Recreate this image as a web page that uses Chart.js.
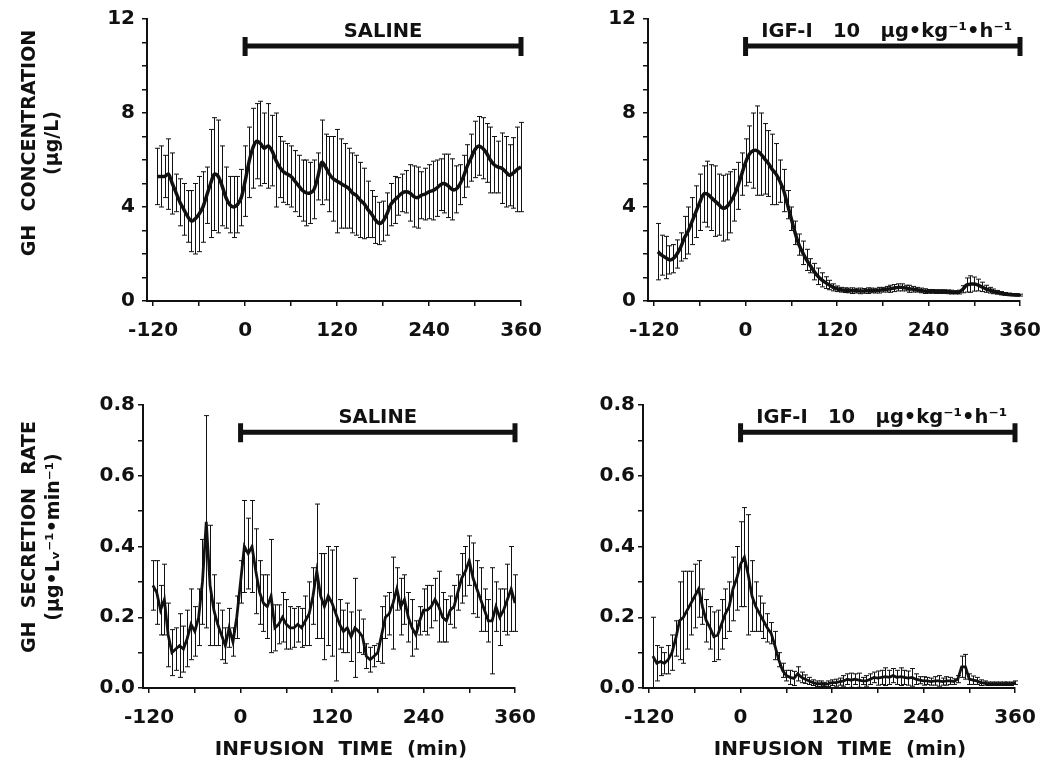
<!DOCTYPE html>
<html>
<head>
<meta charset="utf-8">
<script src="https://cdn.jsdelivr.net/npm/chart.js@4.4.1/dist/chart.umd.min.js"></script>
<style>
  html, body { margin: 0; padding: 0; background: #fff; }
  #wrap { position: relative; width: 1042px; height: 767px; overflow: hidden; background: #fff; }
  #wrap canvas { position: absolute; left: 0; top: 0; }
</style>
</head>
<body>
<div id="wrap">
  <canvas id="concSaline" width="1100" height="767"></canvas>
  <canvas id="concIgf" width="1100" height="767"></canvas>
  <canvas id="rateSaline" width="1100" height="767"></canvas>
  <canvas id="rateIgf" width="1100" height="767"></canvas>
</div>
<script>
// sampling times (min), one sample every 5 min
const sampleTimes = [
  -115, -110, -105, -100, -95, -90, -85, -80, -75, -70, -65, -60,
  -55, -50, -45, -40, -35, -30, -25, -20, -15, -10, -5, 0,
  5, 10, 15, 20, 25, 30, 35, 40, 45, 50, 55, 60,
  65, 70, 75, 80, 85, 90, 95, 100, 105, 110, 115, 120,
  125, 130, 135, 140, 145, 150, 155, 160, 165, 170, 175, 180,
  185, 190, 195, 200, 205, 210, 215, 220, 225, 230, 235, 240,
  245, 250, 255, 260, 265, 270, 275, 280, 285, 290, 295, 300,
  305, 310, 315, 320, 325, 330, 335, 340, 345, 350, 355, 360
];

// axis ticks
const xTicks = [-120, -60, 0, 60, 120, 180, 240, 300, 360];
const xLabels = [-120, 0, 120, 240, 360];
const concTicks = [0, 1, 2, 3, 4, 5, 6, 7, 8, 9, 10, 11, 12];
const concLabels = [0, 4, 8, 12];
const rateTicks = [0, 0.1, 0.2, 0.3, 0.4, 0.5, 0.6, 0.7, 0.8];
const rateLabels = [0, 0.2, 0.4, 0.6, 0.8];
const infusion = [0, 360];

// GH concentration (ug/L), saline
const salineConc = [
  5.3, 5.3, 5.3, 5.4, 5.0, 4.6, 4.2, 3.9, 3.6, 3.4, 3.5, 3.7,
  4.0, 4.5, 5.0, 5.4, 5.3, 4.9, 4.4, 4.1, 4.0, 4.1, 4.4, 5.1,
  5.9, 6.5, 6.8, 6.7, 6.5, 6.6, 6.4, 6.0, 5.7, 5.5, 5.4, 5.3,
  5.1, 4.9, 4.7, 4.6, 4.6, 4.75, 5.3, 5.9, 5.7, 5.4, 5.2, 5.1,
  5.0, 4.9, 4.8, 4.6, 4.5, 4.3, 4.15, 3.9, 3.7, 3.45, 3.3, 3.4,
  3.7, 4.1, 4.3, 4.45, 4.6, 4.65, 4.6, 4.45, 4.4, 4.5, 4.55, 4.65,
  4.7, 4.8, 4.95, 5.0, 4.9, 4.75, 4.75, 4.95, 5.3, 5.75, 6.1, 6.45,
  6.6, 6.5, 6.3, 6.0, 5.8, 5.7, 5.65, 5.5, 5.35, 5.45, 5.6, 5.7
];
const salineConcSem = [
  1.2, 1.3, 0.9, 1.5, 1.3, 0.8, 1.0, 1.1, 1.1, 1.3, 1.5, 1.6,
  1.5, 1.2, 2.3, 2.4, 2.4, 1.7, 1.3, 1.2, 1.3, 1.2, 1.2, 1.5,
  1.5, 1.7, 1.6, 1.8, 1.5, 1.8, 1.5, 2.0, 1.3, 1.3, 1.3, 1.3,
  1.3, 1.3, 1.3, 1.4, 1.3, 1.25, 1.0, 1.8, 1.4, 1.6, 1.8, 2.2,
  1.9, 1.8, 1.7, 1.7, 1.7, 1.6, 1.5, 1.2, 1.0, 1.0, 0.9, 0.85,
  0.9, 0.9, 1.0, 0.8, 0.8, 0.9, 1.2, 1.3, 1.3, 1.0, 1.1, 1.15,
  1.25, 1.2, 1.1, 1.25, 1.35, 1.3, 1.0, 0.85, 0.9, 0.9, 1.0, 1.2,
  1.25, 1.3, 1.25, 1.4, 1.2, 1.1, 1.5, 1.5, 1.3, 1.5, 1.8, 1.9
];

// GH concentration (ug/L), IGF-I infusion
const igfConc = [
  2.1, 1.95, 1.85, 1.75, 1.8, 2.0, 2.3, 2.7, 3.0, 3.4, 3.8, 4.2,
  4.55, 4.55, 4.4, 4.25, 4.1, 3.95, 4.0, 4.2, 4.5, 4.9, 5.4, 5.9,
  6.25, 6.4, 6.4, 6.25, 6.05, 5.85, 5.6, 5.4, 5.1, 4.7, 4.1, 3.5,
  2.9, 2.4, 2.05, 1.75, 1.5, 1.25, 1.05, 0.9, 0.78, 0.68, 0.58, 0.52,
  0.48, 0.46, 0.45, 0.44, 0.44, 0.43, 0.43, 0.44, 0.45, 0.44, 0.46, 0.48,
  0.5, 0.52, 0.55, 0.58, 0.58, 0.55, 0.52, 0.5, 0.48, 0.45, 0.42, 0.41,
  0.41, 0.4, 0.4, 0.4, 0.39, 0.38, 0.37, 0.38, 0.5, 0.68, 0.72, 0.72,
  0.68, 0.6, 0.52, 0.46, 0.41, 0.37, 0.33, 0.3, 0.28, 0.27, 0.26, 0.25
];
const igfConcSem = [
  1.2, 0.85, 0.9, 0.6, 0.6, 0.6, 0.6, 0.9, 1.0, 1.0, 1.1, 1.2,
  1.2, 1.4, 1.4, 1.5, 1.3, 1.4, 1.4, 1.3, 1.1, 1.0, 0.9, 1.0,
  1.2, 1.6, 1.9, 1.75, 1.5, 1.4, 1.5, 1.3, 0.9, 0.9, 0.6, 0.5,
  0.5, 0.45, 0.5, 0.45, 0.3, 0.35, 0.35, 0.3, 0.25, 0.2, 0.15, 0.12,
  0.1, 0.1, 0.1, 0.12, 0.1, 0.12, 0.1, 0.12, 0.1, 0.1, 0.12, 0.1,
  0.12, 0.15, 0.15, 0.15, 0.15, 0.12, 0.15, 0.12, 0.1, 0.1, 0.1, 0.08,
  0.08, 0.08, 0.08, 0.08, 0.08, 0.08, 0.07, 0.08, 0.15, 0.3, 0.35, 0.3,
  0.25, 0.2, 0.15, 0.12, 0.1, 0.08, 0.07, 0.06, 0.05, 0.05, 0.05, 0.04
];

// GH secretion rate (ug/Lv/min), saline
const salineRate = [
  0.29, 0.27, 0.22, 0.25, 0.15, 0.1, 0.11, 0.12, 0.11, 0.14, 0.18, 0.16,
  0.2, 0.3, 0.47, 0.29, 0.22, 0.18, 0.15, 0.12, 0.17, 0.13, 0.2, 0.3,
  0.4, 0.38, 0.4, 0.33, 0.27, 0.24, 0.23, 0.26, 0.17, 0.18, 0.2, 0.18,
  0.17, 0.17, 0.18, 0.17, 0.19, 0.21, 0.26, 0.33, 0.26, 0.23, 0.26, 0.24,
  0.21, 0.18, 0.16, 0.17, 0.145, 0.17, 0.16, 0.145, 0.09, 0.08, 0.09, 0.1,
  0.15, 0.2, 0.21, 0.24, 0.28, 0.23, 0.25, 0.2, 0.17, 0.15, 0.19, 0.22,
  0.22, 0.23, 0.25, 0.23, 0.2, 0.19, 0.22, 0.23, 0.27, 0.31, 0.33, 0.36,
  0.31, 0.28, 0.25, 0.22, 0.19, 0.19, 0.23, 0.2, 0.22, 0.25, 0.28, 0.24
];
const salineRateSem = [
  0.07, 0.09, 0.07, 0.1, 0.09, 0.065, 0.06, 0.09, 0.065, 0.08, 0.1, 0.07,
  0.08, 0.12, 0.3, 0.17, 0.1, 0.06, 0.07, 0.05, 0.055, 0.04, 0.06, 0.06,
  0.13, 0.1, 0.13, 0.12, 0.09, 0.08, 0.09, 0.16, 0.065, 0.055, 0.07, 0.07,
  0.06, 0.055, 0.05, 0.055, 0.07, 0.09, 0.08, 0.19, 0.12, 0.15, 0.14, 0.15,
  0.19, 0.07, 0.06, 0.07, 0.07, 0.14, 0.06, 0.05, 0.035, 0.035, 0.03, 0.025,
  0.08, 0.06, 0.06, 0.13, 0.06, 0.08, 0.07, 0.07, 0.08, 0.04, 0.04, 0.06,
  0.07, 0.06, 0.06, 0.1, 0.07, 0.06, 0.04, 0.06, 0.05, 0.07, 0.07, 0.07,
  0.1, 0.08, 0.09, 0.06, 0.06, 0.15, 0.07, 0.08, 0.06, 0.1, 0.12, 0.08
];

// GH secretion rate (ug/Lv/min), IGF-I infusion
const igfRate = [
  0.09, 0.07, 0.075, 0.07, 0.08, 0.1, 0.14, 0.19, 0.2, 0.22, 0.24, 0.26,
  0.28, 0.23, 0.19, 0.17, 0.145, 0.15, 0.18, 0.21, 0.23, 0.28, 0.31, 0.35,
  0.37, 0.32, 0.26, 0.23, 0.21, 0.19, 0.17, 0.155, 0.12, 0.08, 0.05, 0.035,
  0.03, 0.027, 0.04, 0.03, 0.025, 0.02, 0.015, 0.012, 0.012, 0.01, 0.012, 0.015,
  0.015, 0.018, 0.02, 0.025, 0.022, 0.025, 0.022, 0.02, 0.02, 0.025, 0.03, 0.028,
  0.03, 0.032, 0.03, 0.035, 0.03, 0.032, 0.03, 0.028, 0.03, 0.025, 0.022, 0.02,
  0.02, 0.018, 0.02, 0.02, 0.018, 0.02, 0.02, 0.018, 0.025, 0.06, 0.06, 0.025,
  0.022, 0.02, 0.015, 0.014, 0.012, 0.012, 0.012, 0.012, 0.012, 0.012, 0.012, 0.015
];
const igfRateSem = [
  0.11, 0.05, 0.04, 0.03, 0.04, 0.05, 0.05, 0.11, 0.13, 0.11, 0.09, 0.09,
  0.08, 0.05, 0.06, 0.06, 0.07, 0.07, 0.07, 0.07, 0.07, 0.09, 0.09, 0.12,
  0.14, 0.17, 0.1, 0.07, 0.05, 0.05, 0.04, 0.03, 0.04, 0.02, 0.02, 0.015,
  0.02, 0.02, 0.02, 0.015, 0.012, 0.01, 0.008, 0.008, 0.008, 0.006, 0.008, 0.008,
  0.01, 0.01, 0.015, 0.015, 0.02, 0.015, 0.02, 0.01, 0.015, 0.015, 0.015, 0.02,
  0.02, 0.025, 0.02, 0.02, 0.02, 0.025, 0.02, 0.02, 0.025, 0.015, 0.01, 0.012,
  0.01, 0.01, 0.012, 0.015, 0.01, 0.012, 0.01, 0.008, 0.01, 0.03, 0.035, 0.015,
  0.012, 0.01, 0.008, 0.006, 0.005, 0.005, 0.005, 0.005, 0.005, 0.005, 0.005, 0.005
];

const INK = '#111';
const FONT = "'DejaVu Sans', 'Liberation Sans', sans-serif";
const CANVAS_W = 1100;
const CANVAS_H = 767;

Chart.defaults.font.family = FONT;
Chart.defaults.font.weight = 'bold';
Chart.defaults.color = INK;

// vertical mean +/- SEM bars with small caps at both ends
const errorBarPlugin = {
  id: 'errorBars',
  beforeDatasetsDraw(chart) {
    const { ctx, scales: { x, y } } = chart;
    chart.data.datasets.forEach(ds => {
      if (!ds.errors) return;
      ctx.save();
      ctx.strokeStyle = INK;
      ctx.lineWidth = 1;
      ctx.beginPath();
      ds.data.forEach((pt, i) => {
        const px = Math.round(x.getPixelForValue(pt.x)) + 0.5;
        const top = y.getPixelForValue(pt.y + ds.errors[i]);
        const bot = y.getPixelForValue(Math.max(0, pt.y - ds.errors[i]));
        ctx.moveTo(px, top);
        ctx.lineTo(px, bot);
        ctx.moveTo(px - 2.5, top);
        ctx.lineTo(px + 2.5, top);
        ctx.moveTo(px - 2.5, bot);
        ctx.lineTo(px + 2.5, bot);
      });
      ctx.stroke();
      ctx.restore();
    });
  }
};

// infusion period bar with its label
const infusionBarPlugin = {
  id: 'infusionBar',
  afterDatasetsDraw(chart, args, opts) {
    if (!opts.text) return;
    const { ctx, scales: { x, y } } = chart;
    const x0 = x.getPixelForValue(infusion[0]);
    const x1 = x.getPixelForValue(infusion[1]);
    const yy = y.getPixelForValue(opts.level);
    ctx.save();
    ctx.strokeStyle = INK;
    ctx.lineWidth = 5;
    ctx.beginPath();
    ctx.moveTo(x0, yy);
    ctx.lineTo(x1, yy);
    ctx.moveTo(x0, yy - 9);
    ctx.lineTo(x0, yy + 10);
    ctx.moveTo(x1, yy - 9);
    ctx.lineTo(x1, yy + 10);
    ctx.stroke();
    ctx.fillStyle = INK;
    ctx.font = 'bold 19.5px ' + FONT;
    ctx.textAlign = 'center';
    ctx.textBaseline = 'middle';
    ctx.fillText(opts.text, (x0 + x1) / 2 + opts.shift, yy - 14);
    ctx.restore();
  }
};

// axis captions, placed where the original figure has them
const captionPlugin = {
  id: 'captions',
  afterDraw(chart, args, opts) {
    const { ctx } = chart;
    ctx.save();
    ctx.fillStyle = INK;
    ctx.textAlign = 'center';
    ctx.textBaseline = 'middle';
    if (opts.yLines) {
      ctx.font = 'bold 19px ' + FONT;
      opts.yLines.forEach((line, i) => {
        ctx.save();
        ctx.translate(opts.yAt[0] + i * opts.yGap, opts.yAt[1]);
        ctx.rotate(-Math.PI / 2);
        ctx.fillText(line, 0, 0);
        ctx.restore();
      });
    }
    if (opts.xText) {
      ctx.font = 'bold 20px ' + FONT;
      ctx.fillText(opts.xText, opts.xAt[0], opts.xAt[1]);
    }
    ctx.restore();
  }
};

function makePanel(id, p) {
  const axisLine = { display: true, color: INK, width: 2 };
  const tickMarks = { drawOnChartArea: false, drawTicks: true, tickLength: 5, color: INK, lineWidth: 1.5 };
  return new Chart(document.getElementById(id), {
    type: 'line',
    data: {
      datasets: [{
        data: sampleTimes.map((t, i) => ({ x: t, y: p.mean[i] })),
        errors: p.sem,
        borderColor: INK,
        borderWidth: p.lineWidth,
        tension: p.tension,
        pointRadius: 0,
        fill: false
      }]
    },
    plugins: [errorBarPlugin, infusionBarPlugin, captionPlugin],
    options: {
      responsive: false,
      animation: false,
      events: [],
      layout: {
        padding: {
          left: p.yBoxLeft,
          top: p.area.top,
          right: CANVAS_W - p.area.right,
          bottom: CANVAS_H - p.area.bottom - p.xBoxHeight
        }
      },
      plugins: {
        legend: { display: false },
        tooltip: { enabled: false },
        infusionBar: { text: p.barText, level: p.barLevel, shift: p.barTextShift || 0 },
        captions: p.captions || {}
      },
      scales: {
        x: {
          type: 'linear',
          min: -128,
          max: 360,
          afterBuildTicks: s => { s.ticks = xTicks.map(v => ({ value: v })); },
          afterFit: s => { s.height = p.xBoxHeight; },
          border: axisLine,
          grid: tickMarks,
          ticks: {
            autoSkip: false,
            maxRotation: 0,
            padding: 13,
            font: { size: 20, weight: 'bold' },
            callback: v => xLabels.includes(v) ? String(v) : ''
          }
        },
        y: {
          min: 0,
          max: p.yMax,
          afterBuildTicks: s => { s.ticks = p.yTicks.map(v => ({ value: v })); },
          afterFit: s => { s.width = p.area.left - p.yBoxLeft; },
          border: axisLine,
          grid: tickMarks,
          ticks: {
            autoSkip: false,
            padding: p.yTickPad,
            font: { size: 20, weight: 'bold' },
            callback: v => p.yLabels.includes(v) ? p.fmt(v) : ''
          }
        }
      }
    }
  });
}

const concFmt = v => String(v);
const rateFmt = v => v.toFixed(1);

makePanel('concSaline', {
  area: { left: 147, top: 19, right: 521, bottom: 301 },
  yBoxLeft: 0, xBoxHeight: 44,
  mean: salineConc, sem: salineConcSem, lineWidth: 3.5, tension: 0.35,
  yMax: 12, yTicks: concTicks, yLabels: concLabels, fmt: concFmt, yTickPad: 7,
  barText: 'SALINE', barLevel: 10.85,
  captions: { yLines: ['GH  CONCENTRATION', '(μg/L)'], yAt: [30, 143], yGap: 23 }
});

makePanel('concIgf', {
  area: { left: 648, top: 19, right: 1020, bottom: 301 },
  yBoxLeft: 560, xBoxHeight: 44,
  mean: igfConc, sem: igfConcSem, lineWidth: 3.5, tension: 0.35,
  yMax: 12, yTicks: concTicks, yLabels: concLabels, fmt: concFmt, yTickPad: 7,
  barText: 'IGF-I   10   μg•kg⁻¹•h⁻¹', barLevel: 10.85, barTextShift: 4
});

makePanel('rateSaline', {
  area: { left: 143, top: 405, right: 515, bottom: 688 },
  yBoxLeft: 0, xBoxHeight: 76,
  mean: salineRate, sem: salineRateSem, lineWidth: 2.8, tension: 0,
  yMax: 0.8, yTicks: rateTicks, yLabels: rateLabels, fmt: rateFmt, yTickPad: 3,
  barText: 'SALINE', barLevel: 0.723,
  captions: {
    yLines: ['GH  SECRETION  RATE', '(μg•Lᵥ⁻¹•min⁻¹)'], yAt: [30, 537], yGap: 24,
    xText: 'INFUSION  TIME  (min)', xAt: [341, 750]
  }
});

makePanel('rateIgf', {
  area: { left: 643, top: 405, right: 1015, bottom: 688 },
  yBoxLeft: 560, xBoxHeight: 76,
  mean: igfRate, sem: igfRateSem, lineWidth: 2.8, tension: 0,
  yMax: 0.8, yTicks: rateTicks, yLabels: rateLabels, fmt: rateFmt, yTickPad: 3,
  barText: 'IGF-I   10   μg•kg⁻¹•h⁻¹', barLevel: 0.723, barTextShift: 4,
  captions: { xText: 'INFUSION  TIME  (min)', xAt: [840, 750] }
});
</script>
</body>
</html>
